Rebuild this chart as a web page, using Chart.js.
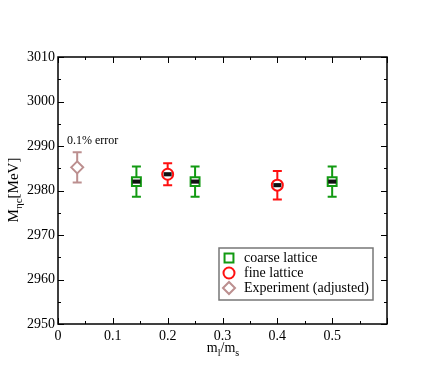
<!DOCTYPE html>
<html>
<head>
<meta charset="utf-8">
<script src="https://cdn.jsdelivr.net/npm/chart.js@4"></script>
<style>
html,body{margin:0;padding:0;background:#fff;}
#wrap{width:436px;height:382px;position:relative;}
</style>
</head>
<body>
<div id="wrap"><canvas id="c" width="436" height="382"></canvas></div>
<script>
// ---- data ----
const coarseX = [0.143, 0.25, 0.5];
const coarseY = [2982.0, 2982.0, 2982.0];
const coarseErr = [3.4, 3.4, 3.4];
const coarseStat = [0.35, 0.35, 0.35];

const fineX = [0.2, 0.4];
const fineY = [2983.65, 2981.2];
const fineErr = [2.45, 3.2];
const fineStat = [0.35, 0.35];

const expX = [0.035];
const expY = [2985.2];
const expErr = [3.4];

const xTicks = [0, 0.1, 0.2, 0.3, 0.4, 0.5];
const yTicks = [2950, 2960, 2970, 2980, 2990, 3000, 3010];

const seriesNames = ['coarse lattice', 'fine lattice', 'Experiment (adjusted)'];
const annotationText = '0.1% error';

const GREEN = '#129a12', RED = '#ff1010', BROWN = '#bc8f8f';
const SERIF = '"Liberation Serif", "DejaVu Serif", serif';

function pts(xs, ys) { return xs.map((x, i) => ({x: x, y: ys[i]})); }

const datasets = [
  {label: seriesNames[0], data: pts(coarseX, coarseY), pointStyle: 'rect', pointRadius: 6.3,
   borderColor: GREEN, backgroundColor: '#fff', pointBorderWidth: 2, errs: coarseErr, stat: coarseStat},
  {label: seriesNames[1], data: pts(fineX, fineY), pointStyle: 'circle', pointRadius: 5.5,
   borderColor: RED, backgroundColor: '#fff', pointBorderWidth: 2, errs: fineErr, stat: fineStat},
  {label: seriesNames[2], data: pts(expX, expY), pointStyle: 'rectRot', pointRadius: 6,
   borderColor: BROWN, backgroundColor: '#fff', pointBorderWidth: 2, errs: expErr, stat: null}
];

const decor = {
  id: 'decor',
  beforeDatasetsDraw(chart) {
    const ctx = chart.ctx, xs = chart.scales.x, ys = chart.scales.y;
    ctx.save();
    chart.data.datasets.forEach(ds => {
      ctx.strokeStyle = ds.borderColor; ctx.lineWidth = 2;
      ds.data.forEach((p, i) => {
        const px = xs.getPixelForValue(p.x);
        const t = ys.getPixelForValue(p.y + ds.errs[i]);
        const b = ys.getPixelForValue(p.y - ds.errs[i]);
        ctx.beginPath();
        ctx.moveTo(px, t); ctx.lineTo(px, b);
        ctx.moveTo(px - 4.5, t); ctx.lineTo(px + 4.5, t);
        ctx.moveTo(px - 4.5, b); ctx.lineTo(px + 4.5, b);
        ctx.stroke();
      });
    });
    ctx.restore();
  },
  afterDatasetsDraw(chart) {
    const ctx = chart.ctx, xs = chart.scales.x, ys = chart.scales.y, a = chart.chartArea;
    ctx.save();
    // inner black (statistical) bars
    chart.data.datasets.forEach(ds => {
      if (!ds.stat) return;
      ds.data.forEach((p, i) => {
        const px = xs.getPixelForValue(p.x);
        const t = ys.getPixelForValue(p.y + ds.stat[i]);
        const b = ys.getPixelForValue(p.y - ds.stat[i]);
        ctx.fillStyle = '#111';
        ctx.fillRect(px - 4, Math.min(t, b) - 0.5, 8, Math.abs(b - t) + 1);
      });
    });
    // frame
    ctx.strokeStyle = '#000'; ctx.lineWidth = 1.5;
    ctx.strokeRect(a.left, a.top, a.right - a.left, a.bottom - a.top);
    // ticks inward
    ctx.lineWidth = 1;
    ctx.beginPath();
    for (let v = 0; v <= 0.6001; v += 0.05) {
      const major = Math.abs(Math.round(v * 10) - v * 10) < 1e-6;
      const L = major ? 6 : 3;
      const px = Math.round(xs.getPixelForValue(v)) + 0.5;
      ctx.moveTo(px, a.bottom); ctx.lineTo(px, a.bottom - L);
      ctx.moveTo(px, a.top); ctx.lineTo(px, a.top + L);
    }
    for (let v = 2950; v <= 3010; v += 5) {
      const major = v % 10 === 0;
      const L = major ? 6 : 3;
      const py = Math.round(ys.getPixelForValue(v)) + 0.5;
      ctx.moveTo(a.left, py); ctx.lineTo(a.left + L, py);
      ctx.moveTo(a.right, py); ctx.lineTo(a.right - L, py);
    }
    ctx.stroke();

    // annotation
    ctx.fillStyle = '#000';
    ctx.font = '12px ' + SERIF;
    ctx.textAlign = 'left'; ctx.textBaseline = 'alphabetic';
    ctx.fillText(annotationText, 67, 144);

    // legend
    const lx = 219, ly = 248, lw = 154, lh = 52;
    ctx.strokeStyle = '#777'; ctx.lineWidth = 1.5;
    ctx.strokeRect(lx, ly, lw, lh);
    chart.data.datasets.forEach((ds, i) => {
      const cy = 258 + i * 15;
      ctx.strokeStyle = ds.borderColor; ctx.fillStyle = '#fff'; ctx.lineWidth = 2;
      Chart.helpers.drawPoint(ctx, {pointStyle: ds.pointStyle, radius: ds.pointRadius, borderWidth: 2}, 229, cy);
      ctx.fillStyle = '#000';
      ctx.font = '14px ' + SERIF;
      ctx.textBaseline = 'middle';
      ctx.fillText(ds.label, 244, cy + 0.5);
    });

    // axis titles
    ctx.fillStyle = '#000';
    ctx.textBaseline = 'alphabetic';
    // x title m_l/m_s
    {
      const big = '14px ' + SERIF, small = '10px ' + SERIF;
      const parts = [['m', big, 0], ['l', small, 4], ['/m', big, 0], ['s', small, 4]];
      let w = 0;
      parts.forEach(p => { ctx.font = p[1]; w += ctx.measureText(p[0]).width; });
      let x = 223 - w / 2;
      parts.forEach(p => { ctx.font = p[1]; ctx.fillText(p[0], x, 352 + p[2]); x += ctx.measureText(p[0]).width; });
    }
    // y title M_ηc[MeV]
    {
      ctx.save();
      ctx.translate(18, 190);
      ctx.rotate(-Math.PI / 2);
      const big = '15px ' + SERIF, small = '11px ' + SERIF;
      const parts = [['M', big, 0], ['\u03b7c', small, 4], ['[MeV]', big, 0]];
      let w = 0;
      parts.forEach(p => { ctx.font = p[1]; w += ctx.measureText(p[0]).width; });
      let x = -w / 2;
      parts.forEach(p => { ctx.font = p[1]; ctx.fillText(p[0], x, p[2]); x += ctx.measureText(p[0]).width; });
      ctx.restore();
    }
    ctx.restore();
  }
};

new Chart(document.getElementById('c'), {
  type: 'scatter',
  data: {datasets: datasets},
  options: {
    responsive: false,
    animation: false,
    devicePixelRatio: 1,
    layout: {padding: {top: 57, right: 49, left: 0, bottom: 0}},
    plugins: {legend: {display: false}, tooltip: {enabled: false}},
    scales: {
      x: {
        type: 'linear', min: 0, max: 0.6,
        afterFit: s => { s.height = 58; },
        afterBuildTicks: s => { s.ticks = xTicks.map(v => ({value: v})); },
        grid: {display: false, drawTicks: false}, border: {display: false},
        ticks: {color: '#000', padding: 4, font: {family: SERIF, size: 14},
                maxRotation: 0, autoSkip: false,
                callback: v => String(Math.round(v * 10) / 10)}
      },
      y: {
        type: 'linear', min: 2950, max: 3010,
        afterFit: s => { s.width = 58; },
        afterBuildTicks: s => { s.ticks = yTicks.map(v => ({value: v})); },
        grid: {display: false, drawTicks: false}, border: {display: false},
        ticks: {color: '#000', padding: 3, font: {family: SERIF, size: 14}, autoSkip: false,
                callback: v => String(v)}
      }
    }
  },
  plugins: [decor]
});
</script>
</body>
</html>
